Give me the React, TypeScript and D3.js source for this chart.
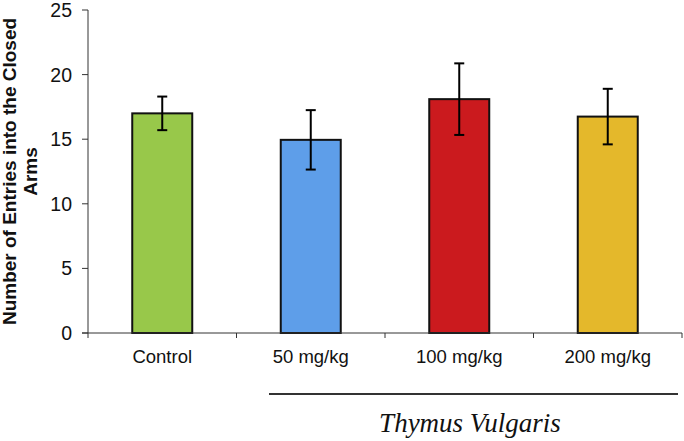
import React from 'react'
import * as d3 from 'd3'

const categories = ['Control', '50 mg/kg', '100 mg/kg', '200 mg/kg']
const means = [17.0, 14.95, 18.1, 16.75]
const errors = [1.3, 2.3, 2.77, 2.15]
const yTicks = [0, 5, 10, 15, 20, 25]
const barColors = ['#98C84A', '#5E9EE9', '#CB1A1E', '#E4B82B']
const groupLabel = 'Thymus Vulgaris'

const App: React.FC = () => {
    const width = 684
    const height = 441
    const margin = { top: 10, right: 2, bottom: 108, left: 88 }

    const x = d3.scaleBand()
        .domain(categories)
        .range([margin.left, width - margin.right])
        .padding(0)

    const y = d3.scaleLinear()
        .domain([0, 25])
        .range([height - margin.bottom, margin.top])

    const barW = x.bandwidth() * 0.404
    const capW = 10
    const font = 'Liberation Sans, Arial, sans-serif'
    const y0 = y(0)

    // boundaries between categories get tick marks
    const boundaries = d3.range(categories.length + 1).map(i => margin.left + i * x.bandwidth())

    return (
        <svg width={width} height={height} style={{ position: 'absolute', left: 0, top: 0, background: '#fff' }}>
            {/* y axis */}
            <line x1={margin.left} x2={margin.left} y1={y(25)} y2={y0} stroke="#333" strokeWidth={1} />
            {yTicks.map(t => (
                <g key={t}>
                    <line x1={margin.left - 6} x2={margin.left} y1={y(t)} y2={y(t)} stroke="#333" strokeWidth={1} />
                    <text x={margin.left - 16} y={y(t)} dy="0.36em" textAnchor="end" fontFamily={font} fontSize={19.5} fill="#111">{t}</text>
                </g>
            ))}

            {/* y axis title */}
            <text transform={`translate(16,${(y(25) + y0) / 2}) rotate(-90)`} textAnchor="middle" fontFamily={font} fontWeight="bold" fontSize={19} fill="#111">
                Number of Entries into the Closed
            </text>
            <text transform={`translate(37,${(y(25) + y0) / 2}) rotate(-90)`} textAnchor="middle" fontFamily={font} fontWeight="bold" fontSize={19} fill="#111">
                Arms
            </text>

            {/* bars */}
            {categories.map((c, i) => {
                const cx = (x(c) as number) + x.bandwidth() / 2
                return (
                    <g key={c}>
                        <rect x={cx - barW / 2} y={y(means[i])} width={barW} height={y0 - y(means[i])}
                            fill={barColors[i]} stroke="#111" strokeWidth={2} />
                        <line x1={cx} x2={cx} y1={y(means[i] + errors[i])} y2={y(means[i] - errors[i])} stroke="#000" strokeWidth={2} />
                        <line x1={cx - capW / 2} x2={cx + capW / 2} y1={y(means[i] + errors[i])} y2={y(means[i] + errors[i])} stroke="#000" strokeWidth={2} />
                        <line x1={cx - capW / 2} x2={cx + capW / 2} y1={y(means[i] - errors[i])} y2={y(means[i] - errors[i])} stroke="#000" strokeWidth={2} />
                        <text x={cx} y={y0 + 30} textAnchor="middle" fontFamily={font} fontSize={18.5} fill="#111">{c}</text>
                    </g>
                )
            })}

            {/* x axis */}
            <line x1={margin.left - 6} x2={width - margin.right} y1={y0} y2={y0} stroke="#333" strokeWidth={1} />
            {boundaries.map((b, i) => (
                <line key={i} x1={b} x2={b} y1={y0} y2={y0 + 5} stroke="#333" strokeWidth={1} />
            ))}

            {/* treatment group bracket */}
            <line x1={269} x2={678} y1={394} y2={394} stroke="#333" strokeWidth={2} />
            <text x={470} y={432} textAnchor="middle"
                fontFamily="Liberation Serif, Times New Roman, serif" fontStyle="italic" fontSize={27} fill="#111">
                {groupLabel}
            </text>
        </svg>
    )
}

export default App
